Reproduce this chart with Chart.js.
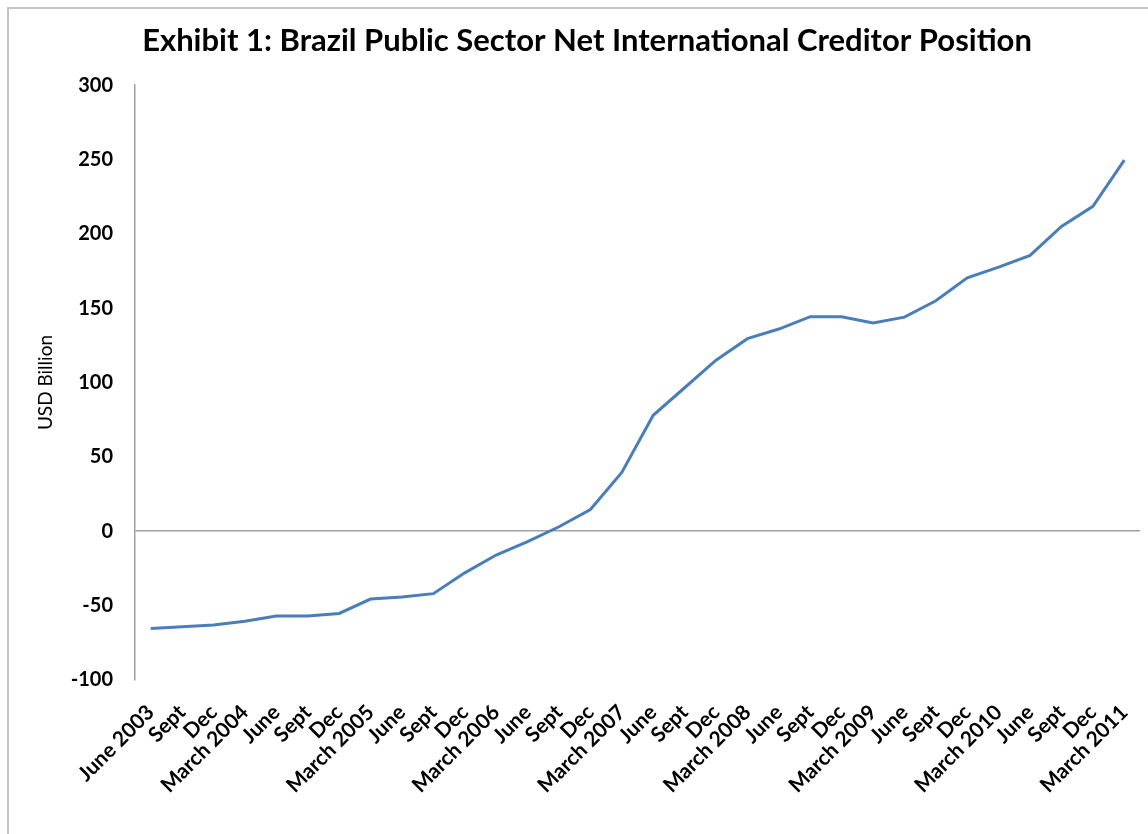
<!DOCTYPE html>
<html>
<head>
<meta charset="utf-8">
<script src="https://cdn.jsdelivr.net/npm/chart.js@4.4.1/dist/chart.umd.min.js"></script>
<style>
  html, body { margin: 0; padding: 0; background: #fff; }
  #frame {
    position: absolute; left: 7px; top: 7px; width: 1141px; height: 827px;
    border-left: 2px solid #c4c4c4; border-top: 2px solid #c4c4c4;
    box-sizing: border-box;
  }
  #wrap { position: absolute; left: 0; top: 0; width: 1148px; height: 834px; }
</style>
</head>
<body>
<div id="frame"></div>
<div id="wrap"><canvas id="grafico"></canvas></div>
<script>
const periodos = [
  'June 2003', 'Sept', 'Dec', 'March 2004', 'June', 'Sept', 'Dec', 'March 2005',
  'June', 'Sept', 'Dec', 'March 2006', 'June', 'Sept', 'Dec', 'March 2007',
  'June', 'Sept', 'Dec', 'March 2008', 'June', 'Sept', 'Dec', 'March 2009',
  'June', 'Sept', 'Dec', 'March 2010', 'June', 'Sept', 'Dec', 'March 2011'
];

const posicaoCredora = [
  -65.5, -64.3, -63, -60.5, -57, -57, -55.3, -45.6,
  -44.3, -42, -28, -16, -7, 3, 14.6, 39.5,
  78, 96.5, 115, 129.5, 136, 144.3, 144.3, 140,
  144, 155, 170.4, 177.6, 185.5, 205, 218.5, 249.6
];

const ticksY = [-100, -50, 0, 50, 100, 150, 200, 250, 300];

const titulo = 'Exhibit 1: Brazil Public Sector Net International Creditor Position';
const tituloEixoY = 'USD Billion';

const fonte = 'Lato, "Open Sans", sans-serif';

const ctx = document.getElementById('grafico').getContext('2d');

const grafico = new Chart(ctx, {
  type: 'line',
  data: {
    labels: periodos,
    datasets: [{
      label: 'Net creditor position',
      data: posicaoCredora,
      borderColor: '#4a7ebb',
      borderWidth: 3,
      pointRadius: 0,
      tension: 0,
      fill: false
    }]
  },
  options: {
    responsive: true,
    maintainAspectRatio: false,
    animation: false,
    layout: { padding: { top: 12, right: 8, left: 34, bottom: 16 } },
    plugins: {
      legend: { display: false },
      tooltip: { enabled: false },
      title: {
        display: true,
        text: titulo,
        color: '#000',
        font: { family: fonte, size: 31, weight: 'bold' },
        padding: { top: 10, bottom: 26 }
      }
    },
    scales: {
      x: {
        offset: true,
        grid: { display: false, drawTicks: false },
        border: { display: false },
        afterFit: function (eixo) {
          // o eixo y ja ocupa a esquerda, e a ultima etiqueta termina no tick
          eixo.paddingLeft = 0;
          eixo.paddingRight = 0;
        },
        ticks: {
          autoSkip: false,
          minRotation: 45,
          maxRotation: 45,
          color: '#000',
          padding: 20,
          font: { family: fonte, size: 21, weight: 'bold' }
        }
      },
      y: {
        min: -100,
        max: 300,
        afterBuildTicks: function (eixo) {
          eixo.ticks = ticksY.map(v => ({ value: v }));
        },
        afterFit: function (eixo) {
          eixo.width = 101;
        },
        border: { display: true, color: '#a0a0a0', width: 1.5 },
        grid: {
          drawTicks: false,
          lineWidth: 1.5,
          color: function (c) {
            return c.tick && c.tick.value === 0 ? '#a0a0a0' : 'rgba(0,0,0,0)';
          }
        },
        ticks: {
          color: '#000',
          padding: 22,
          font: { family: fonte, size: 20, weight: 'bold' }
        },
        title: {
          display: true,
          text: tituloEixoY,
          color: '#000',
          font: { family: fonte, size: 19 },
          padding: { top: 0, bottom: 0 }
        }
      }
    }
  }
});
</script>
</body>
</html>
